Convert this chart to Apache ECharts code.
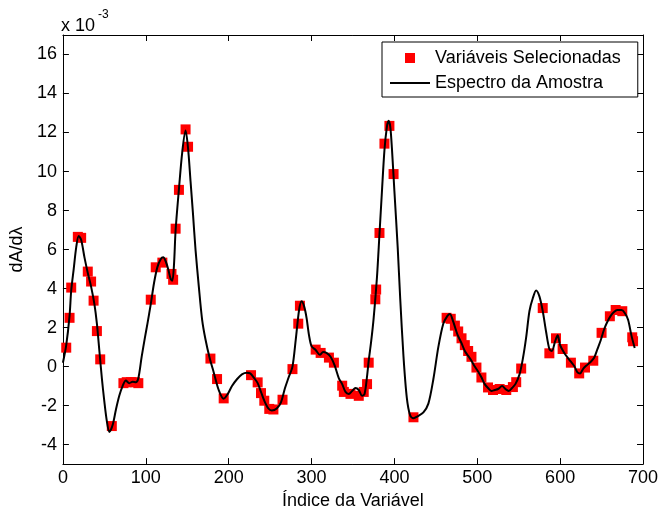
<!DOCTYPE html>
<html>
<head>
<meta charset="utf-8">
<script src="https://cdn.jsdelivr.net/npm/echarts@6/dist/echarts.min.js"></script>
<style>
html,body{margin:0;padding:0;background:#fff;}
#chart{width:662px;height:515px;}
</style>
</head>
<body>
<div id="chart"></div>
<script>
// Spectrum (units of 1e-3)
var specX = [0,4,8,10,13,16,19,22,26,30,34,38,41,44,47,50,53,56,60,64,68,72,76,80,84,88,91,95,99,102,106,110,114,118,121,124,127,130,132,134,136,140,144,148,151,154,157,160,164,168,172,177,182,188,194,199,204,210,216,222,226,231,235,239,243,248,252,258,263,268,272,277,281,285,288,291,294,297,300,305,310,314,318,323,328,333,337,341,345,349,353,357,361,364,367,369,372,375,379,382,385,388,391,393,395,397,400,404,407,411,415,419,423,428,435,441,447,453,459,464,467,471,476,481,485,489,493,497,501,505,509,513,517,521,525,530,534,538,542,546,551,555,559,563,567,571,575,579,583,587,590,594,597,600,605,609,613,617,621,624,628,633,637,641,645,649,653,657,661,665,669,674,678,682,686,690];
var specY = [0.2,1.1,2.6,3.9,5.0,6.1,6.7,6.5,5.6,4.8,4.1,3.2,2.2,0.8,-0.6,-1.8,-2.8,-3.35,-3.0,-2.2,-1.5,-1.0,-0.72,-0.85,-0.78,-0.8,-0.6,0.5,1.5,2.2,3.2,4.3,5.1,5.5,5.6,5.4,5.0,4.5,4.4,5.2,7.0,9.1,11.0,12.1,11.2,9.5,7.8,6.0,4.1,2.4,1.4,0.45,-0.3,-1.2,-1.65,-1.4,-1.0,-0.65,-0.4,-0.32,-0.35,-0.6,-0.85,-1.3,-1.75,-2.15,-2.25,-2.15,-1.85,-1.1,-0.6,0.0,1.4,2.9,3.35,3.1,2.5,1.6,1.05,0.85,0.6,0.75,0.7,0.5,0.05,-0.6,-0.9,-1.3,-1.4,-1.25,-1.1,-1.2,-1.5,-1.4,-0.5,0.3,1.3,2.5,4.6,6.8,9.0,11.1,12.3,12.6,12.3,11.2,9.0,6.1,3.5,0.5,-1.6,-2.5,-2.65,-2.55,-2.35,-1.9,-0.65,1.0,2.2,2.6,2.7,2.3,1.65,1.2,0.8,0.55,0.3,0.0,-0.25,-0.55,-0.9,-1.1,-1.25,-1.2,-1.15,-1.0,-1.15,-1.25,-1.1,-0.9,-0.4,0.4,1.5,2.85,3.5,3.9,3.6,2.85,1.8,0.9,0.8,1.3,1.6,1.1,0.7,0.46,0.25,0.03,-0.3,-0.35,-0.1,0.1,0.25,0.45,0.9,1.35,1.9,2.3,2.6,2.8,2.9,2.9,2.75,2.4,1.6,0.95];

// Selected variables
var selX = [4,8,10,18,22,30,34,37,41,45,59,73,77,82,87,91,106,112,120,131,133,136,140,148,151,178,186,194,227,235,239,243,249,254,265,277,284,286,305,311,321,327,337,339,347,357,363,367,369,377,378,382,388,394,399,423,463,468,473,477,481,485,489,493,499,505,513,519,527,535,543,547,553,579,587,595,603,613,623,630,640,650,660,667,675,687,688];
var selY = [0.97,2.5,4.05,6.65,6.6,4.87,4.36,3.38,1.82,0.37,-3.05,-0.85,-0.8,-0.8,-0.8,-0.85,3.43,5.09,5.33,4.75,4.45,7.07,9.06,12.16,11.27,0.41,-0.64,-1.63,-0.44,-0.81,-1.36,-1.75,-2.17,-2.2,-1.7,-0.13,2.2,3.12,0.87,0.7,0.46,0.2,-0.98,-1.3,-1.4,-1.5,-1.3,-0.9,0.2,3.45,3.95,6.85,11.43,12.34,9.87,-2.6,2.5,2.45,2.1,1.8,1.45,1.1,0.8,0.5,-0.05,-0.56,-1.07,-1.2,-1.15,-1.2,-1.05,-0.8,-0.1,3.0,0.68,1.45,0.9,0.2,-0.35,-0.05,0.3,1.73,2.58,2.9,2.84,1.5,1.3];

var xTicks = [0,100,200,300,400,500,600,700];
var yTicks = [-4,-2,0,2,4,6,8,10,12,14,16];

var seriesNames = ['Variáveis Selecionadas','Espectro da Amostra'];
var xName = 'Índice da Variável';
var yName = 'dA/d\u03bb';

var specData = specX.map(function(x,i){return [x, specY[i]];});
var selData = selX.map(function(x,i){return [x, selY[i]];});

var FONT = '"Liberation Sans", Arial, Helvetica, sans-serif';
var chart = echarts.init(document.getElementById('chart'), null, {renderer:'canvas'});

var tickCommon = {show:true, inside:true, length:6, lineStyle:{color:'#000', width:1}};
chart.setOption({
  animation:false,
  backgroundColor:'#fff',
  textStyle:{fontFamily:FONT},
  grid:{left:62, right:19, top:35, bottom:46, containLabel:false, show:false},
  legend:{
    left:382, top:42, orient:'vertical',
    itemWidth:40, itemHeight:10, itemGap:7,
    padding:[7,17,5,8],
    symbolKeepAspect:true,
    borderColor:'#000', borderWidth:1, backgroundColor:'#fff',
    textStyle:{fontSize:18, color:'#000', fontFamily:FONT},
    data:[
      {name:seriesNames[0], icon:'path://M0,0H1V1H0Z', itemStyle:{color:'#ff0000'}},
      {name:seriesNames[1], icon:'path://M0,0H40V2H0Z', itemStyle:{color:'#000'}}
    ]
  },
  xAxis:[{
    type:'value', min:0, max:700, interval:100, position:'bottom',
    name:xName, nameLocation:'middle', nameGap:25,
    nameTextStyle:{fontSize:18, color:'#000', fontFamily:FONT},
    axisLine:{show:true, onZero:false, lineStyle:{color:'#000', width:1}},
    axisTick:tickCommon,
    axisLabel:{fontSize:18, color:'#000', margin:5, fontFamily:FONT},
    splitLine:{show:false}
  },{
    type:'value', min:0, max:700, interval:100, position:'top',
    axisLine:{show:true, onZero:false, lineStyle:{color:'#000', width:1}},
    axisTick:tickCommon, axisLabel:{show:false}, splitLine:{show:false}
  }],
  yAxis:[{
    type:'value', min:-5, max:17, position:'left',
    name:yName, nameLocation:'middle', nameGap:34, nameRotate:90,
    nameTextStyle:{fontSize:18, color:'#000', fontFamily:FONT},
    axisLine:{show:true, onZero:false, lineStyle:{color:'#000', width:1}},
    axisTick:{show:true, inside:true, length:6, lineStyle:{color:'#000'}, customValues:yTicks},
    axisLabel:{fontSize:18, color:'#000', margin:6, fontFamily:FONT, customValues:yTicks},
    splitLine:{show:false}
  },{
    type:'value', min:-5, max:17, position:'right',
    axisLine:{show:true, onZero:false, lineStyle:{color:'#000', width:1}},
    axisTick:{show:true, inside:true, length:6, lineStyle:{color:'#000'}, customValues:yTicks},
    axisLabel:{show:false}, splitLine:{show:false}
  }],
  graphic:[
    {type:'text', left:61, top:17, style:{text:'x 10', fontSize:18, fill:'#000', fontFamily:FONT}},
    {type:'text', left:98, top:9, style:{text:'-3', fontSize:12, fill:'#000', fontFamily:FONT}}
  ],
  series:[{
    name:seriesNames[0], type:'scatter', data:selData,
    symbol:'rect', symbolSize:10, symbolKeepAspect:true,
    itemStyle:{color:'#ff0000', opacity:1}, z:2
  },{
    name:seriesNames[1], type:'line', data:specData,
    showSymbol:false, symbol:'none', smooth:0.3,
    lineStyle:{color:'#000', width:2}, itemStyle:{color:'#000'}, z:3
  }]
});
</script>
</body>
</html>
